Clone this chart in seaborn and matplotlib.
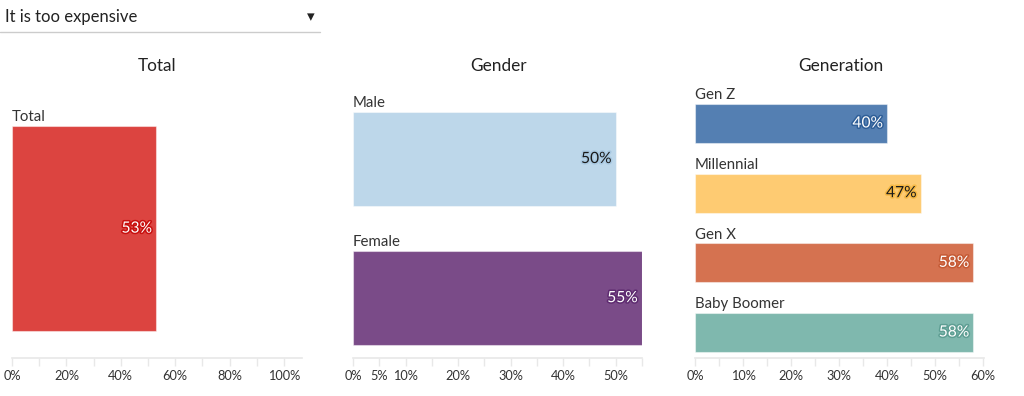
import matplotlib
matplotlib.use("Agg")
import matplotlib.pyplot as plt
import matplotlib.patheffects as pe
from matplotlib.ticker import FixedLocator, MultipleLocator
import seaborn as sns

# ---- data ----
dropdown_text = "It is too expensive"
panel_titles = ["Total", "Gender", "Generation"]

total_cats = ["Total"]
total_vals = [53]

gender_cats = ["Male", "Female"]
gender_vals = [50, 55]

gen_cats = ["Gen Z", "Millennial", "Gen X", "Baby Boomer"]
gen_vals = [40, 47, 58, 58]

total_colors = ["#DC4440"]
gender_colors = ["#BDD7EA", "#7A4B88"]
gen_colors = ["#547FB2", "#FECB72", "#D57250", "#7FB8AE"]

total_text = [("white", "#C8100F")]
gender_text = [("#1a1a1a", "#A9C9E2"), ("white", "#5E2B70")]
gen_text = [("white", "#2F5F98"), ("#1a1a1a", "#F5B845"), ("white", "#C55A35"), ("white", "#5E9E93")]

total_ticks = [0, 20, 40, 60, 80, 100]
gender_ticks = [0, 5, 10, 20, 30, 40, 50]
gen_ticks = [0, 10, 20, 30, 40, 50, 60]

sns.set_theme(style="white")
plt.rcParams["font.family"] = ["Lato", "DejaVu Sans"]

W, H = 1024, 396
fig = plt.figure(figsize=(W / 100, H / 100), dpi=100)


def px_axes(x0, x1, y0, y1):
    return fig.add_axes([x0 / W, 1 - y1 / H, (x1 - x0) / W, (y1 - y0) / H])


def draw_panel(ax, cats, vals, colors, txt, width, xlim, ylim, major, minor_step, title, cx):
    sns.barplot(x=vals, y=cats, hue=cats, palette=colors, legend=False, orient="h",
                width=width, ax=ax, edgecolor=(1, 1, 1, 0.45), linewidth=0.8, saturation=1)
    ax.set_xlim(*xlim)
    ax.set_ylim(*ylim)
    ax.set_ylabel("")
    ax.set_xlabel("")
    ax.set_yticks([])
    for s in ["top", "right", "left"]:
        ax.spines[s].set_visible(False)
    ax.spines["bottom"].set_color("#e8e8e8")
    ax.spines["bottom"].set_linewidth(1.2)
    ax.xaxis.set_major_locator(FixedLocator(major))
    ax.xaxis.set_minor_locator(MultipleLocator(minor_step))
    ax.set_xticklabels([f"{t}%" for t in major])
    ax.tick_params(axis="x", which="both", bottom=True, length=6, width=1,
                   color="#e8e8e8", labelsize=9.2, labelcolor="#333333", pad=3)
    for i, (c, v) in enumerate(zip(cats, vals)):
        ax.annotate(c, xy=(0, i - width / 2), xytext=(0, 1.2), textcoords="offset points",
                    ha="left", va="bottom", fontsize=10.8, color="#333333")
        fc, sc = txt[i]
        ax.annotate(f"{v}%", xy=(v, i), xytext=(-3, 0), textcoords="offset points",
                    ha="right", va="center", fontsize=11.2, color=fc,
                    path_effects=[pe.withStroke(linewidth=2.2, foreground=sc)])
    fig.text(cx / W, 1 - 66 / H, title, ha="center", va="center", fontsize=12.4, color="#222222")


ax1 = px_axes(12, 302, 100, 358)
draw_panel(ax1, total_cats, total_vals, total_colors, total_text, 0.8,
           (0, 106.6), (0.505, -0.502), total_ticks, 10, panel_titles[0], 157)

ax2 = px_axes(353, 642, 90, 358)
draw_panel(ax2, gender_cats, gender_vals, gender_colors, gender_text, 0.676,
           (0, 55), (1.43, -0.496), gender_ticks, 5, panel_titles[1], 499)

ax3 = px_axes(695, 984, 80, 358)
draw_panel(ax3, gen_cats, gen_vals, gen_colors, gen_text, 0.56,
           (0, 60.2), (3.366, -0.624), gen_ticks, 5, panel_titles[2], 841)

# dropdown
fig.text(5 / W, 1 - 17 / H, dropdown_text, ha="left", va="center", fontsize=12, color="#222222")
fig.text(311 / W, 1 - 17 / H, "\u25BE", ha="center", va="center", fontsize=11, color="#222222",
         family="DejaVu Sans")
fig.add_artist(plt.Line2D([0, 320 / W], [1 - 31.5 / H, 1 - 31.5 / H], color="#cccccc", lw=1))

fig.savefig("out.png", dpi=100)
